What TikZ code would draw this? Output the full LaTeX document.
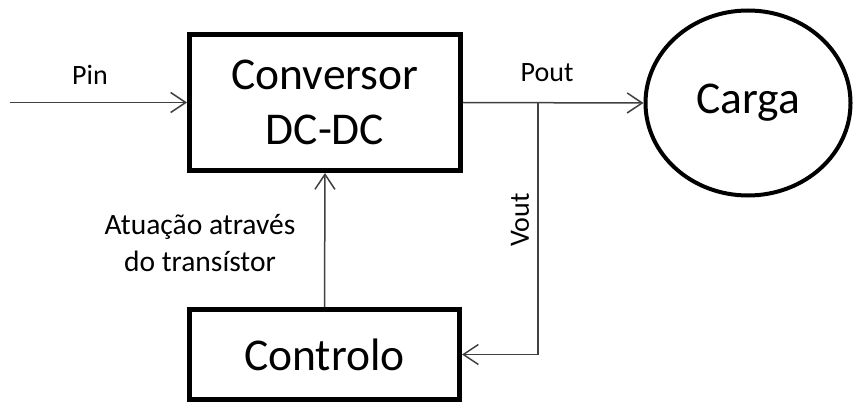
\documentclass[tikz,border=0pt]{standalone}
\usepackage{fontspec}
\setmainfont{Carlito}
\usetikzlibrary{arrows.meta,shapes.geometric}
\begin{document}
\begin{tikzpicture}[x=1pt,y=-1pt,
  blockbox/.style={draw=black,line width=5pt,rectangle,inner sep=0pt,align=center,font=\fontsize{45.5}{55}\selectfont},
  loadell/.style={draw=black,line width=4pt,ellipse,inner sep=0pt,font=\fontsize{45.5}{55}\selectfont},
  wire/.style={draw=black!75,line width=1.5pt},
  arr/.style={wire,-{Straight Barb[length=15pt,width=20pt,line width=1.5pt]}},
  lbl/.style={font=\fontsize{28}{37}\selectfont,inner sep=0pt,align=center}]
\useasboundingbox (0,0) rectangle (853,406);
\node[blockbox,minimum width=271pt,minimum height=136pt] (conv) at (325,102.5) {Conversor\\DC-DC};
\node[blockbox,minimum width=270pt,minimum height=90pt] (ctrl) at (324.5,354.5) {Controlo};
\node[loadell,minimum width=205pt,minimum height=185pt] (carga) at (748,103) {Carga};
\coordinate (pinstart) at (10,102.5);
\coordinate (branch) at (538,102.5);
\draw[arr] (pinstart) -- (conv.west);
\draw[arr] (conv.east) -- (carga.west);
\draw[arr] (branch) |- (ctrl.east);
\draw[arr] (ctrl.north) -- (conv.south);
\node[lbl] (pin) at (90,75) {Pin};
\node[lbl] (pout) at (547,73) {Pout};
\node[lbl,rotate=90] (vout) at (520,220) {Vout};
\node[lbl,font=\fontsize{29.5}{37}\selectfont] (atu) at (200,243) {Atuação através\\do transístor};
\end{tikzpicture}
\end{document}
